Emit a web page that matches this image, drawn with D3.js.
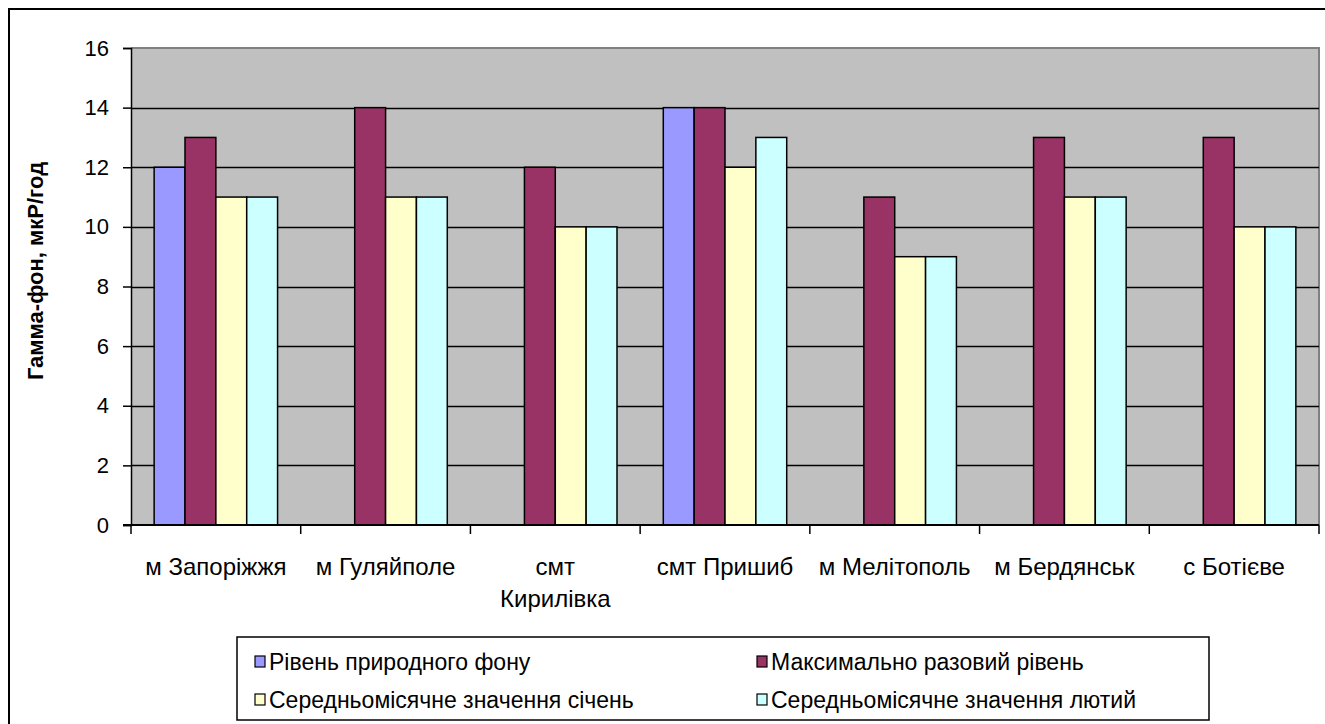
<!DOCTYPE html>
<html>
<head>
<meta charset="utf-8">
<script src="https://cdn.jsdelivr.net/npm/d3@7"></script>
<style>
  body { margin: 0; background: #fff; }
  text { font-family: Arial, "Liberation Sans", sans-serif; }
</style>
</head>
<body>
<svg id="chart" width="1325" height="724"></svg>
<script>
// categories (\n = line break in label)
const cities = ["м Запоріжжя", "м Гуляйполе", "смт\nКирилівка", "смт Пришиб", "м Мелітополь", "м Бердянськ", "с Ботієве"];
const seriesNames = ["Рівень природного фону", "Максимально разовий рівень", "Середньомісячне значення січень", "Середньомісячне значення лютий"];
const seriesColors = ["#9999FF", "#993366", "#FFFFCC", "#CCFFFF"];
const natural = [12, null, null, 14, null, null, null];
const maxLevel = [13, 14, 12, 14, 11, 13, 13];
const avgJan = [11, 11, 10, 12, 9, 11, 10];
const avgFeb = [11, 11, 10, 13, 9, 11, 10];
const yTicks = [0, 2, 4, 6, 8, 10, 12, 14, 16];
const yTitle = "Гамма-фон, мкР/год";

const series = [natural, maxLevel, avgJan, avgFeb];

const svg = d3.select("#chart");
const plot = {left: 131, right: 1319, top: 48, bottom: 525};

// outer chart frame (only top & left visible)
svg.append("path")
    .attr("d", "M9,724 V9 H1325")
    .attr("fill", "none")
    .attr("stroke", "#000")
    .attr("stroke-width", 2);

var x = d3.scaleBand()
    .domain(d3.range(cities.length))
    .range([plot.left, plot.right]);
// Excel gap width 150%: bar w = band/5.5, outer offset = 0.75w
const bw = x.bandwidth() / 5.5;
var inner = d3.scaleBand()
    .domain(d3.range(series.length))
    .range([0.75 * bw, 4.75 * bw]);

var y = d3.scaleLinear().domain([0, 16]).range([plot.bottom, plot.top]);

// plot area
svg.append("rect")
    .attr("x", plot.left).attr("y", plot.top)
    .attr("width", plot.right - plot.left).attr("height", plot.bottom - plot.top)
    .attr("fill", "#C0C0C0");
svg.append("path")
    .attr("d", `M${plot.left},${plot.top} H${plot.right} V${plot.bottom}`)
    .attr("fill", "none").attr("stroke", "#808080").attr("stroke-width", 2);

// gridlines
svg.append("g").selectAll("line")
  .data(yTicks.filter(d => d > 0 && d < 16))
  .join("line")
    .attr("x1", plot.left).attr("x2", plot.right)
    .attr("y1", d => Math.round(y(d)) + 0.5).attr("y2", d => Math.round(y(d)) + 0.5)
    .attr("stroke", "#000").attr("stroke-width", 1.3);

// bars
series.forEach((vals, si) => {
  svg.append("g").selectAll("rect")
    .data(vals.map((v, i) => ({v, i})).filter(d => d.v != null))
    .join("rect")
      .attr("x", d => x(d.i) + inner(si))
      .attr("y", d => y(d.v))
      .attr("width", inner.bandwidth())
      .attr("height", d => y(0) - y(d.v))
      .attr("fill", seriesColors[si])
      .attr("stroke", "#000")
      .attr("stroke-width", 1.5);
});

// y axis
var yAxis = svg.append("g")
    .attr("transform", `translate(${plot.left},0)`)
    .call(d3.axisLeft(y).tickValues(yTicks).tickSize(8).tickPadding(14));
yAxis.select(".domain").attr("stroke", "#000").attr("stroke-width", 1.5);
yAxis.selectAll(".tick line").attr("stroke", "#000").attr("stroke-width", 1.5);
yAxis.selectAll("text").attr("font-size", 22).attr("fill", "#000")
    .attr("font-family", "Arial, 'Liberation Sans', sans-serif");

// x axis
var xAxis = svg.append("g").attr("transform", `translate(0,${plot.bottom})`);
xAxis.append("line")
    .attr("x1", plot.left - 8).attr("x2", plot.right)
    .attr("stroke", "#000").attr("stroke-width", 2);
xAxis.selectAll(".tk")
  .data(d3.range(cities.length + 1))
  .join("line")
    .attr("x1", d => d < cities.length ? x(d) : plot.right)
    .attr("x2", d => d < cities.length ? x(d) : plot.right)
    .attr("y1", 0).attr("y2", 9)
    .attr("stroke", "#000").attr("stroke-width", 1.5);
xAxis.selectAll(".lbl")
  .data(cities)
  .join("text")
    .attr("text-anchor", "middle")
    .attr("font-size", 24)
    .attr("fill", "#000")
    .attr("transform", (d, i) => `translate(${x(i) + x.bandwidth() / 2},50)`)
    .each(function(d) {
      d.split("\n").forEach((t, k) => {
        d3.select(this).append("tspan").attr("x", 0).attr("dy", k ? 32 : 0).text(t);
      });
    });

// y title
svg.append("text")
    .attr("transform", `translate(43,271) rotate(-90)`)
    .attr("text-anchor", "middle")
    .attr("font-size", 22)
    .attr("font-weight", "bold")
    .text(yTitle);

// legend
const lg = svg.append("g");
lg.append("rect")
    .attr("x", 237).attr("y", 637).attr("width", 972).attr("height", 83)
    .attr("fill", "#fff").attr("stroke", "#000").attr("stroke-width", 1.5);
const legX = [255, 757], legY = [662, 700];
seriesNames.forEach((name, i) => {
  const gx = legX[i % 2], gy = legY[Math.floor(i / 2)];
  lg.append("rect")
      .attr("x", gx).attr("y", gy - 6).attr("width", 10).attr("height", 11)
      .attr("fill", seriesColors[i]).attr("stroke", "#000").attr("stroke-width", 1.2);
  lg.append("text")
      .attr("x", gx + 14).attr("y", gy + 8)
      .attr("font-size", 23)
      .text(name);
});
</script>
</body>
</html>
